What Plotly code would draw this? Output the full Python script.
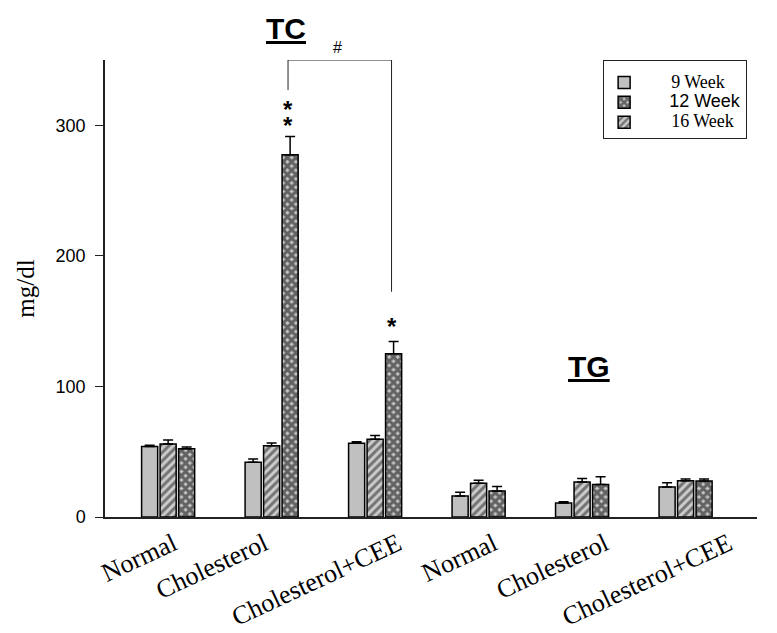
import plotly.graph_objects as go

groups = ["Normal", "Cholesterol", "Cholesterol+CEE", "Normal", "Cholesterol", "Cholesterol+CEE"]
xpos = [0, 1, 2, 3, 4, 5]

wk9 = [54, 42, 56.5, 16, 10.7, 23]
wk9_err = [1, 2.5, 1.2, 3, 1, 3.3]
wk16 = [56, 54.6, 59.5, 25.8, 26.8, 27.8]
wk16_err = [3, 2, 3, 2.3, 2.6, 1.3]
wk12 = [52.3, 277.4, 125, 20, 24.8, 27.6]
wk12_err = [1.3, 14, 9.5, 3.3, 6, 1.5]

yticks = [0, 100, 200, 300]

# layout: horizontal shift of each category label (labels in the original sit irregularly)
label_shift = [0.05, -0.07, 0.22, 0.145, 0.22, 0.415]
label_pos = [p + s for p, s in zip(xpos, label_shift)]

BARGAP = 0.464
slot = (1 - BARGAP) / 3

line = dict(color="black", width=1.5)

def err(a):
    return dict(type="data", array=a, arrayminus=[0] * len(a), color="black", thickness=1.5, width=5)

def lname(text, fam, pad):
    return "<span style='font-family:%s;font-size:18px'>%s%s</span>" % (fam, "&nbsp;" * pad, text)

fig = go.Figure()
fig.add_trace(go.Bar(
    x=xpos, y=wk9, name=lname("9 Week", "Liberation Serif", 6),
    legendrank=1, marker=dict(color="#c0c0c0", line=line), error_y=err(wk9_err)))
fig.add_trace(go.Bar(
    x=xpos, y=wk16, name=lname("16 Week", "Liberation Serif", 6),
    legendrank=3,
    marker=dict(color="#c8c8c8", line=line,
                pattern=dict(shape="/", fgcolor="#1a1a1a", bgcolor="#cccccc", size=6, solidity=0.5)),
    error_y=err(wk16_err)))
fig.add_trace(go.Bar(
    x=xpos, y=wk12, name=lname("12 Week", "Liberation Sans", 5),
    legendrank=2,
    marker=dict(color="#b0b0b0", line=line,
                pattern=dict(shape="x", fgcolor="#000000", bgcolor="#c4c4c4", size=6, solidity=0.75)),
    error_y=err(wk12_err)))

# bracket between Cholesterol and Cholesterol+CEE (12 Week bars)
xl = xpos[1] + slot - 0.02
xr = xpos[2] + slot - 0.02
br_top, br_left_bot, br_right_bot = 350, 327, 172.5
bl = dict(color="#222222", width=1)
fig.add_shape(type="line", x0=xl, x1=xr, y0=br_top, y1=br_top, line=bl, xref="x", yref="y")
fig.add_shape(type="line", x0=xl, x1=xl, y0=br_top, y1=br_left_bot, line=bl, xref="x", yref="y")
fig.add_shape(type="line", x0=xr, x1=xr, y0=br_top, y1=br_right_bot, line=bl, xref="x", yref="y")

star_span = "<span style='font-size:24px'><b>*</b></span>"
fig.add_annotation(x=xl, y=306, text=star_span + "<br>" + star_span, showarrow=False,
                   font=dict(family="Liberation Sans", size=12, color="black"), xref="x", yref="y")
fig.add_annotation(x=xr, y=146, text=star_span, showarrow=False,
                   font=dict(family="Liberation Sans", size=12, color="black"), xref="x", yref="y")
fig.add_annotation(x=1.64, y=1.028, text="#", showarrow=False, yanchor="middle",
                   font=dict(family="Liberation Sans", size=16, color="black"), xref="x", yref="paper")

title_font = dict(family="Liberation Sans", size=30, color="black")
fig.add_annotation(x=1.135, y=1.068, text="<b><u>TC</u></b>", showarrow=False, font=title_font,
                   xref="x", yref="paper", yanchor="middle")
fig.add_annotation(x=4.07, y=0.33, text="<b><u>TG</u></b>", showarrow=False, font=title_font,
                   xref="x", yref="paper", yanchor="middle")

fig.update_layout(
    width=769, height=625,
    margin=dict(l=97, r=20, t=52, b=116),
    paper_bgcolor="white", plot_bgcolor="white",
    barmode="group", bargap=BARGAP, bargroupgap=0.13,
    showlegend=True,
    legend=dict(x=0.764, y=1.0, xanchor="left", yanchor="top",
                bgcolor="white", bordercolor="#222222", borderwidth=1,
                font=dict(size=13, color="black"),
                title=dict(text=" ", font=dict(size=5)),
                traceorder="normal"),
    xaxis=dict(range=[-0.61, 5.69], tickvals=label_pos, ticktext=groups, tickangle=-25,
               tickfont=dict(family="Liberation Serif", size=26, color="black"),
               showline=True, linecolor="#222222", linewidth=1.5, ticks="",
               showgrid=False, zeroline=False, automargin=False),
    yaxis=dict(range=[0, 350], tickvals=yticks, ticks="outside", ticklen=8, tickwidth=1,
               tickcolor="#222222", ticklabelstandoff=6,
               tickfont=dict(family="Liberation Sans", size=18, color="black"),
               showline=True, linecolor="#222222", linewidth=1.5,
               showgrid=False, zeroline=False, automargin=False,
               title=dict(text="mg/dl", font=dict(family="Liberation Serif", size=25, color="black"),
                          standoff=14)),
)

fig.write_html("out.html")
